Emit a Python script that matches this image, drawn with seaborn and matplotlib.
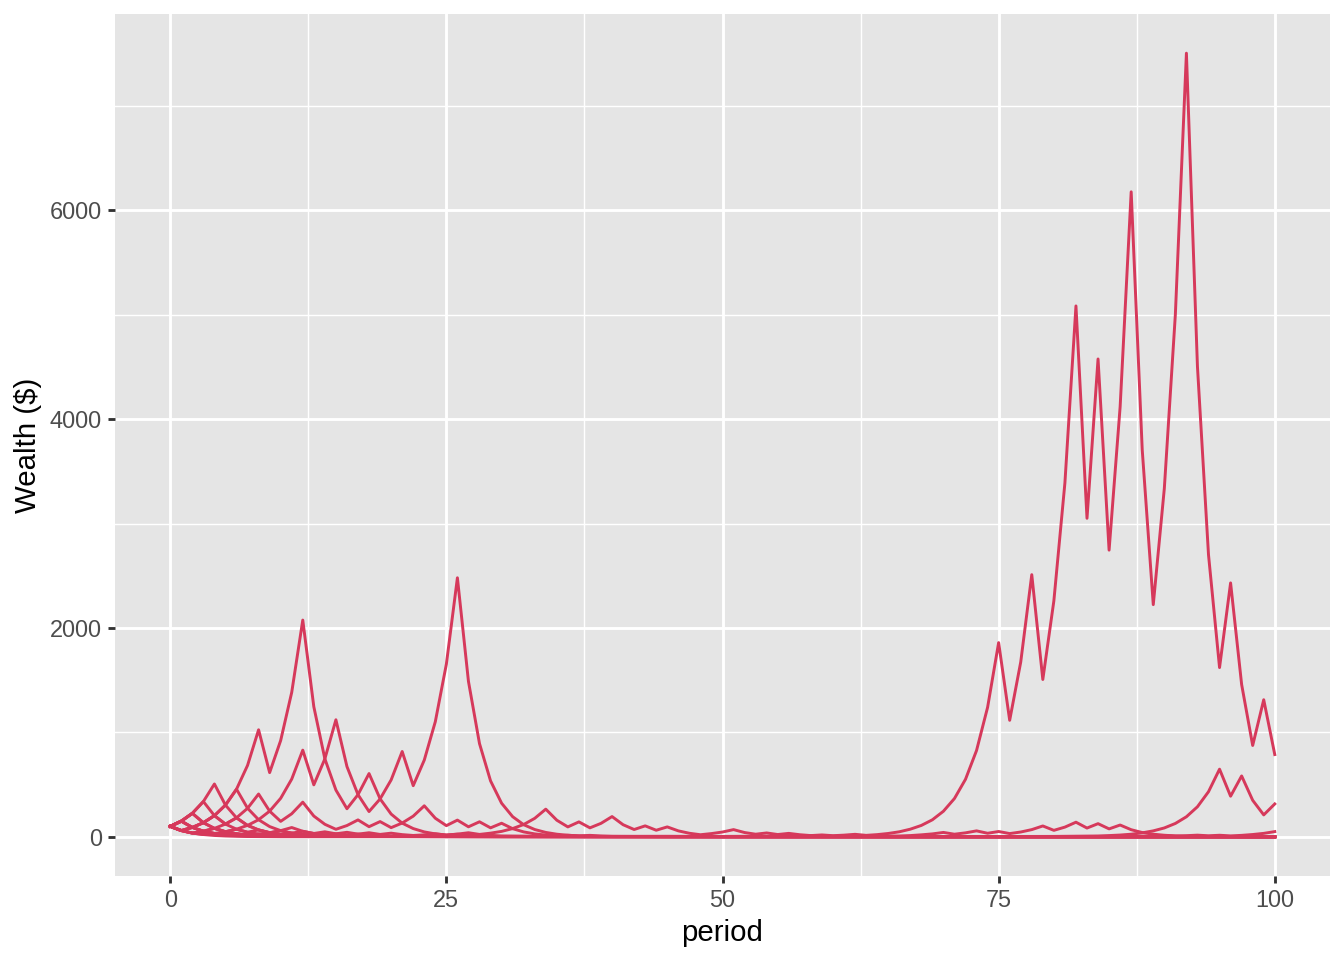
import numpy as np
import pandas as pd
import matplotlib
matplotlib.use('Agg')
import matplotlib.pyplot as plt
import seaborn as sns

# wealth paths: (period, wealth) knots per path
p1_t = list(range(0, 31)) + [35, 45, 60, 100]
p1_w = [100, 150, 90, 135, 203, 304, 456, 684, 1025, 615, 923, 1384, 2076, 1246, 747, 448,
        269, 404, 606, 364, 218, 131, 79, 47, 28, 17, 25, 15, 9, 14, 8, 3, 1, 0.5, 0.2]

p2_t = list(range(0, 41)) + [50, 70, 100]
p2_w = [100, 150, 225, 135, 203, 122, 182, 273, 410, 246, 369, 553, 830, 498, 747, 1121,
        673, 404, 242, 363, 545, 817, 490, 735, 1103, 1654, 2481, 1489, 893, 536, 322,
        193, 116, 70, 42, 25, 15, 9, 14, 8, 5, 2, 1, 0.3]

p3_t = list(range(0, 17)) + [20, 30, 100]
p3_w = [100, 150, 225, 338, 506, 304, 182, 109, 66, 39, 59, 35, 21, 13, 19, 11, 7, 3, 1, 0]

p4_t = list(range(0, 21)) + [25, 40, 100]
p4_w = [100, 150, 225, 338, 203, 304, 456, 274, 164, 98, 59, 89, 53, 32, 48, 29, 17, 26,
        16, 9, 6, 3, 1, 0]

p5_t = list(range(0, 39)) + [45, 60, 100]
p5_w = [100, 60, 90, 135, 81, 122, 182, 109, 164, 246, 148, 221, 332, 199, 120, 72, 108,
        162, 97, 146, 88, 132, 198, 297, 178, 107, 160, 96, 144, 86, 130, 78, 47, 28, 17,
        10, 15, 9, 5, 2, 1, 0]

p6_t = list(range(0, 60)) + [65, 80, 100]
p6_w = [100, 60, 36, 54, 81, 49, 73, 44, 26, 39, 59, 35, 53, 32, 19, 29, 43, 26, 39, 23,
        35, 21, 13, 19, 29, 17, 26, 39, 23, 35, 52, 79, 118, 177, 265, 159, 95, 143, 86,
        129, 194, 116, 70, 105, 63, 95, 57, 34, 20, 31, 46, 69, 41, 25, 37, 22, 33, 20, 12,
        7, 3, 1, 0.5]

p7_t = list(range(0, 11)) + [15, 20, 25, 30, 35, 40, 45, 50] + list(range(54, 101))
p7_w = [100, 60, 36, 22, 33, 20, 12, 18, 11, 7, 10, 5, 4, 6, 4, 5, 3, 5, 4,
        6, 9, 13, 8, 12, 18, 11, 16, 24, 14, 21, 32, 48, 73, 109, 163, 245, 367, 551, 827,
        1240, 1860, 1116, 1674, 2511, 1507, 2260, 3390, 5085, 3051, 4577, 2746, 4119, 6178,
        3707, 2224, 3336, 5004, 7506, 4504, 2702, 1621, 2432, 1459, 875, 1313, 788]

p8_t = list(range(0, 9)) + [10, 20, 40, 60] + list(range(66, 93)) + [100]
p8_w = [100, 60, 90, 54, 32, 19, 29, 17, 10, 6, 3, 2, 3,
        8, 12, 19, 28, 42, 25, 38, 57, 34, 51, 31, 46, 69, 104, 62, 93, 140, 84, 126, 76,
        113, 68, 41, 25, 15, 9, 5, 1]

p9_t = list(range(0, 11)) + [20, 40, 60, 80] + list(range(88, 101))
p9_w = [100, 150, 90, 54, 81, 49, 29, 17, 26, 16, 9, 4, 2, 1, 2,
        5, 8, 12, 7, 11, 16, 10, 15, 9, 14, 22, 33, 50]

p10_t = list(range(0, 8)) + [10, 30, 50, 70, 80] + list(range(84, 101))
p10_w = [100, 60, 36, 54, 32, 19, 12, 7, 4, 2, 1, 2, 4,
         8, 12, 17, 25, 38, 57, 85, 128, 192, 288, 432, 648, 389, 583, 350, 210, 315]

p11_t = [0, 1, 2, 3, 4, 5, 6, 7, 10, 100]
p11_w = [100, 60, 36, 22, 13, 8, 5, 3, 1, 0]

p12_t = list(range(0, 13)) + [15, 25, 40, 100]
p12_w = [100, 150, 90, 54, 32, 48, 29, 17, 26, 16, 9, 14, 8, 4, 2, 1, 0.3]

p13_t = list(range(0, 16)) + [20, 40, 100]
p13_w = [100, 150, 225, 135, 81, 49, 73, 110, 66, 40, 24, 36, 22, 13, 20, 12, 5, 2, 0.5]

p14_t = list(range(0, 15)) + [20, 50, 100]
p14_w = [100, 60, 90, 135, 203, 122, 73, 44, 66, 40, 24, 14, 22, 13, 8, 3, 1, 0]

paths = [(p1_t, p1_w), (p2_t, p2_w), (p3_t, p3_w), (p4_t, p4_w), (p5_t, p5_w),
         (p6_t, p6_w), (p7_t, p7_w), (p8_t, p8_w), (p9_t, p9_w), (p10_t, p10_w),
         (p11_t, p11_w), (p12_t, p12_w), (p13_t, p13_w), (p14_t, p14_w)]

frames = []
for i, (t, w) in enumerate(paths):
    assert len(t) == len(w), (i, len(t), len(w))
    frames.append(pd.DataFrame({'sim': i, 'period': t, 'wealth': w}))
df = pd.concat(frames, ignore_index=True)

LINE = '#d6395b'
plt.rcParams['font.family'] = ['Liberation Sans', 'DejaVu Sans']

fig = plt.figure(figsize=(7, 5), dpi=192)
ax = fig.add_axes([115 / 1344, 1 - 876 / 960, (1330 - 115) / 1344, (876 - 14) / 960])
ax.set_facecolor('#E5E5E5')

sns.lineplot(data=df, x='period', y='wealth', units='sim', estimator=None,
             color=LINE, linewidth=1.1, ax=ax, legend=False, zorder=3)

ymin, ymax = df['wealth'].min(), df['wealth'].max()
yr = ymax - ymin
ax.set_xlim(-5, 105)
ax.set_ylim(ymin - 0.05 * yr, ymax + 0.05 * yr)

ax.set_xticks([0, 25, 50, 75, 100])
ax.set_xticks([12.5, 37.5, 62.5, 87.5], minor=True)
ax.set_yticks([0, 2000, 4000, 6000])
ax.set_yticks([1000, 3000, 5000, 7000], minor=True)
ax.grid(which='major', color='white', linewidth=1.07, zorder=0)
ax.grid(which='minor', color='white', linewidth=0.53, zorder=0)
ax.set_axisbelow(True)
for s in ax.spines.values():
    s.set_visible(False)
ax.tick_params(which='major', length=2.75, width=1.07, color='#333333',
               labelcolor='#4D4D4D', labelsize=8.8, pad=2.2)
ax.tick_params(which='minor', length=0)

ax.set_xlabel('period', fontsize=11, color='black', labelpad=2.5)
ax.set_ylabel(r'Wealth (\$)', fontsize=11, color='black', labelpad=3)

fig.savefig('out.png', dpi=192)
